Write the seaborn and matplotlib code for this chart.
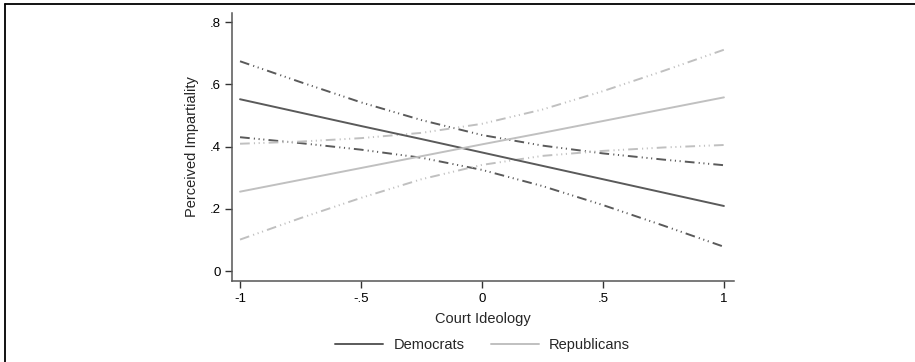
import numpy as np
import pandas as pd
import matplotlib
matplotlib.use("Agg")
import matplotlib.pyplot as plt
from matplotlib.lines import Line2D
import seaborn as sns

# Predicted perceived impartiality by court ideology, with 95% confidence bounds
court_ideology = [-1.0, -0.75, -0.5, -0.25, 0.0, 0.25, 0.5, 0.75, 1.0]

dem_pred  = [0.552, 0.509, 0.466, 0.424, 0.381, 0.338, 0.295, 0.252, 0.209]
dem_upper = [0.674, 0.607, 0.542, 0.485, 0.437, 0.403, 0.378, 0.358, 0.340]
dem_lower = [0.430, 0.411, 0.390, 0.364, 0.325, 0.273, 0.212, 0.146, 0.078]

rep_pred  = [0.255, 0.293, 0.331, 0.369, 0.407, 0.444, 0.482, 0.520, 0.558]
rep_upper = [0.409, 0.416, 0.427, 0.444, 0.473, 0.519, 0.578, 0.643, 0.711]
rep_lower = [0.101, 0.170, 0.235, 0.295, 0.341, 0.370, 0.386, 0.397, 0.405]

x_ticks = [-1, -0.5, 0, 0.5, 1]
x_tick_labels = ["-1", "-.5", "0", ".5", "1"]
y_ticks = [0, 0.2, 0.4, 0.6, 0.8]
y_tick_labels = ["0", ".2", ".4", ".6", ".8"]

sns.set_style("white")
plt.rcParams["font.family"] = ["Liberation Sans", "DejaVu Sans"]
plt.rcParams["lines.scale_dashes"] = False

DEM_COLOR = "#5a5a5a"
REP_COLOR = "#c0c0c0"
CI_DASHES = (7, 3, 0.8, 2.6, 0.8, 2.6, 0.8, 3)

fig = plt.figure(figsize=(9.15, 3.62), dpi=100)
ax = fig.add_axes([0.2536, 0.2238, 0.802 - 0.2536, 0.964 - 0.2238])

series = [
    (dem_upper, DEM_COLOR, True),
    (dem_lower, DEM_COLOR, True),
    (rep_upper, REP_COLOR, True),
    (rep_lower, REP_COLOR, True),
    (dem_pred, DEM_COLOR, False),
    (rep_pred, REP_COLOR, False),
]
for values, color, is_ci in series:
    df = pd.DataFrame({"x": court_ideology, "y": values})
    sns.lineplot(data=df, x="x", y="y", ax=ax, color=color, lw=1.4)
    line = ax.lines[-1]
    if is_ci:
        line.set_dashes(CI_DASHES)

ax.set_xlim(-1.033, 1.041)
ax.set_ylim(-0.032, 0.829)
ax.set_xticks(x_ticks)
ax.set_xticklabels(x_tick_labels)
ax.set_yticks(y_ticks)
ax.set_yticklabels(y_tick_labels)
ax.tick_params(axis="both", which="both", direction="out", length=5, width=1,
               color="#333333", labelsize=9.5, labelcolor="black", pad=3,
               bottom=True, left=True)
ax.tick_params(axis="x", pad=4)

for side in ["top", "right"]:
    ax.spines[side].set_visible(False)
for side in ["left", "bottom"]:
    ax.spines[side].set_color("#555555")
    ax.spines[side].set_linewidth(1.1)

ax.set_xlabel("Court Ideology", fontsize=10.5, labelpad=5)
ax.set_ylabel("Perceived Impartiality", fontsize=10.5, labelpad=8)

handles = [Line2D([0], [0], color=DEM_COLOR, lw=1.4),
           Line2D([0], [0], color=REP_COLOR, lw=1.4)]
fig.legend(handles, ["Democrats", "Republicans"], loc="center",
           bbox_to_anchor=(0.5275, 0.047), ncol=2, frameon=False,
           fontsize=10.5, handlelength=3.3, columnspacing=1.8, handletextpad=0.7)

# Outer frame lines along the top and left edges
fig.add_artist(Line2D([5 / 915, 1.0], [1 - 4 / 362, 1 - 4 / 362],
                      transform=fig.transFigure, color="black", lw=1.3))
fig.add_artist(Line2D([5 / 915, 5 / 915], [0.0, 1 - 4 / 362],
                      transform=fig.transFigure, color="black", lw=1.3))

fig.savefig("out.png", dpi=100, facecolor="white")
